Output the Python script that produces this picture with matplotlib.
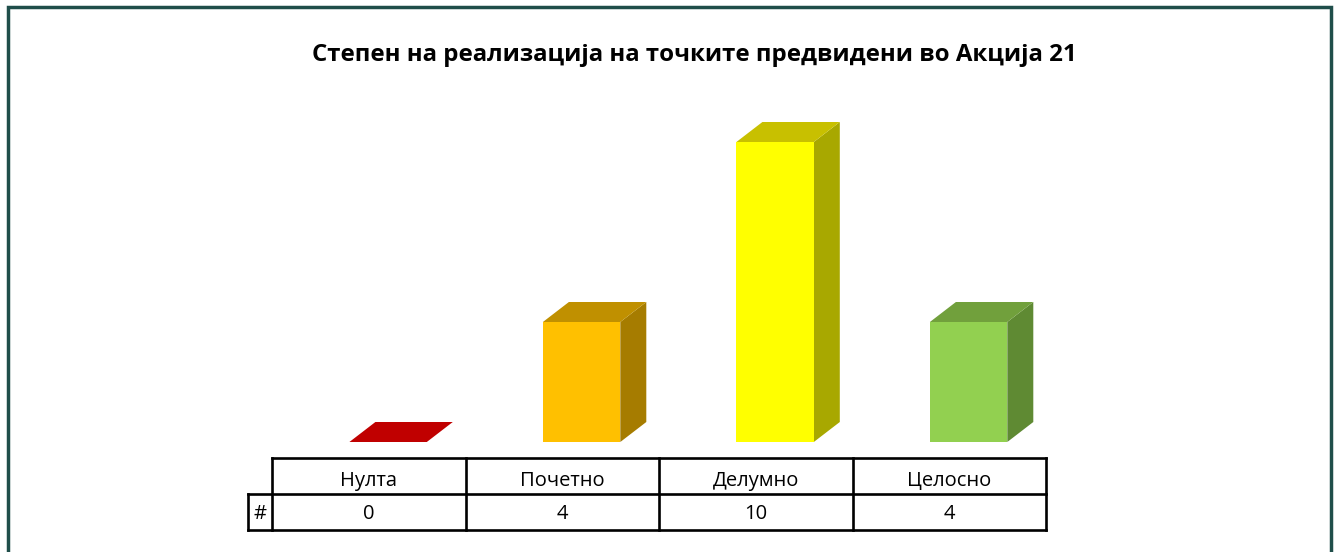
import matplotlib
matplotlib.use("Agg")
import matplotlib.pyplot as plt
from matplotlib.patches import Polygon, Rectangle
from matplotlib.transforms import offset_copy
from matplotlib import font_manager

# податоци
categories = ["Нулта", "Почетно", "Делумно", "Целосно"]
values = [0, 4, 10, 4]
row_label = "#"
title = "Степен на реализација на точките предвидени во Акција 21"

front_colors = ["#C00000", "#FFC000", "#FFFF00", "#92D050"]
top_colors = ["#C00000", "#C09000", "#C8C000", "#71A03C"]
side_colors = ["#A00000", "#A67C00", "#A8A800", "#5F8A33"]

W, H = 1341, 552
fig = plt.figure(figsize=(W / 100, H / 100), dpi=100)

names = {f.name for f in font_manager.fontManager.ttflist}
fam = "Liberation Sans Narrow" if "Liberation Sans Narrow" in names else "Open Sans"


def fig_box(x0, y0, x1, y1):
    # пиксели (од горе лево) -> координати на фигурата
    return [x0 / W, 1 - y1 / H, (x1 - x0) / W, (y1 - y0) / H]


# рамка
fig.patches.append(Rectangle((8 / W, -0.05), (1331 - 8) / W, (H - 7) / H + 0.05,
                             transform=fig.transFigure, fill=False,
                             edgecolor="#1F4E4A", linewidth=2.5))

fig.text(694 / W, 1 - 55 / H, title, ha="center", va="center",
         fontsize=17.3, fontweight="bold", family=fam)

# графикон со 3Д столбови
ax = fig.add_axes(fig_box(272, 92, 1046, 442))
ax.set_xlim(0, len(categories))
ax.set_ylim(0, 350 / 30)
ax.axis("off")

back = offset_copy(ax.transData, fig=fig, x=26, y=20, units="dots")
inv = ax.transData.inverted()
for i, v in enumerate(values):
    x0, x1 = i + 0.4, i + 0.8
    # преден ѕид
    if v > 0:
        ax.add_patch(Rectangle((x0, 0), x1 - x0, v, facecolor=front_colors[i],
                               edgecolor="none", zorder=3))
    # горен ѕид: преден раб во податоци, заден раб поместен
    fx0, fy = ax.transData.transform((x0, v))
    fx1, _ = ax.transData.transform((x1, v))
    bx0, by = back.transform((x0, v))
    bx1, _ = back.transform((x1, v))
    top_pts = inv.transform([(fx0, fy), (fx1, fy), (bx1, by), (bx0, by)])
    ax.add_patch(Polygon(top_pts, closed=True, facecolor=top_colors[i],
                         edgecolor="none", zorder=3))
    if v > 0:
        _, gy0 = ax.transData.transform((x1, 0))
        hx, hy0 = back.transform((x1, 0))
        side_pts = inv.transform([(fx1, gy0), (fx1, fy), (bx1, by), (hx, hy0)])
        ax.add_patch(Polygon(side_pts, closed=True, facecolor=side_colors[i],
                             edgecolor="none", zorder=2))

# табела
tx = fig.add_axes(fig_box(248, 458, 1046, 530))
lab_w = 24 / 193.5
n = len(categories)
tx.set_xlim(-lab_w, n)
tx.set_ylim(0, 2)
tx.axis("off")
lw = 1.9
tx.plot([0, n], [2, 2], color="black", lw=lw, clip_on=False)
tx.plot([-lab_w, n], [1, 1], color="black", lw=lw, clip_on=False)
tx.plot([-lab_w, n], [0, 0], color="black", lw=lw, clip_on=False)
tx.plot([-lab_w, -lab_w], [0, 1], color="black", lw=lw, clip_on=False)
for k in range(n + 1):
    tx.plot([k, k], [0, 2], color="black", lw=lw, clip_on=False)
for i, (c, v) in enumerate(zip(categories, values)):
    tx.text(i + 0.5, 1.36, c, ha="center", va="center", fontsize=14.5, family=fam)
    tx.text(i + 0.5, 0.44, str(v), ha="center", va="center", fontsize=14.5, family=fam)
tx.text(-lab_w / 2, 0.44, row_label, ha="center", va="center", fontsize=14.5, family=fam)

fig.savefig("out.png", dpi=100)
